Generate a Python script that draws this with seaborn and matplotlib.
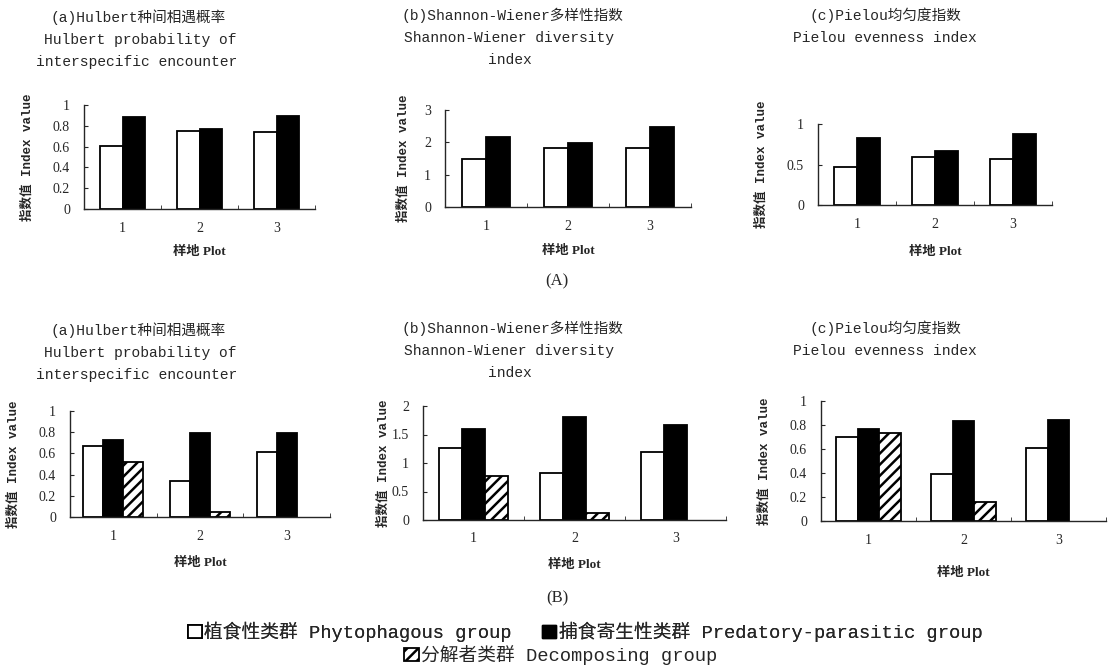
import numpy as np
import pandas as pd
import seaborn as sns
import matplotlib.pyplot as plt
from matplotlib.patches import Patch

sns.set_style("ticks")
MONO = ["Liberation Mono", "Noto Sans CJK SC", "DejaVu Sans"]
SERIF = ["Liberation Serif", "Noto Sans CJK SC", "DejaVu Sans"]
plt.rcParams["font.family"] = MONO
plt.rcParams["hatch.linewidth"] = 1.8

# plots (sample sites)
plots = ["1", "2", "3"]
groups = ["植食性类群", "捕食寄生性类群", "分解者类群"]
group_en = ["Phytophagous group", "Predatory-parasitic group", "Decomposing group"]

# (A) two groups
A_hulbert_phyto = [0.61, 0.75, 0.74]
A_hulbert_pred = [0.88, 0.77, 0.89]
A_shannon_phyto = [1.50, 1.81, 1.81]
A_shannon_pred = [2.17, 1.99, 2.47]
A_pielou_phyto = [0.47, 0.59, 0.57]
A_pielou_pred = [0.83, 0.67, 0.88]

# (B) three groups, no decomposer bar on plot 3
B_hulbert_phyto = [0.67, 0.34, 0.61]
B_hulbert_pred = [0.73, 0.79, 0.79]
B_hulbert_decomp = [0.52, 0.05, np.nan]
B_shannon_phyto = [1.26, 0.82, 1.19]
B_shannon_pred = [1.59, 1.81, 1.66]
B_shannon_decomp = [0.78, 0.13, np.nan]
B_pielou_phyto = [0.70, 0.39, 0.61]
B_pielou_pred = [0.77, 0.83, 0.84]
B_pielou_decomp = [0.73, 0.155, np.nan]

yticks_hulbert = [0, 0.2, 0.4, 0.6, 0.8, 1]
ylabels_hulbert = ["0", "0.2", "0.4", "0.6", "0.8", "1"]

W, H = 1109, 665
fig = plt.figure(figsize=(W / 100, H / 100), dpi=100)
palette = {groups[0]: "white", groups[1]: "black", groups[2]: "white"}


def px_axes(left, top, right, bottom):
    return fig.add_axes([left / W, 1 - bottom / H, (right - left) / W, (bottom - top) / H])


def text_px(x, y, s, **kw):
    fig.text(x / W, 1 - y / H, s, ha="center", va="center", **kw)


def draw_panel(ax, series, yticks, yticklabels, width, ylab_dx, xlab_dy):
    n = len(series)
    df = pd.DataFrame({
        "plot": np.tile(plots, n),
        "group": np.repeat(groups[:n], len(plots)),
        "value": np.concatenate(series),
    }).dropna()
    sns.barplot(data=df, x="plot", y="value", hue="group", order=plots,
                hue_order=groups[:n], palette=palette, width=width,
                edgecolor="black", linewidth=1.3, saturation=1,
                errorbar=None, legend=False, ax=ax)
    if n == 3:
        for bar in ax.containers[2]:
            bar.set_hatch("///")
    ax.set_xlim(-0.5, 2.5)
    ax.set_ylim(yticks[0], yticks[-1])
    ax.set_yticks(yticks)
    ax.set_yticklabels(yticklabels)
    ax.set_xticks([0.5, 1.5, 2.5], minor=True)
    ax.tick_params(axis="x", which="major", length=0, pad=9, labelsize=10)
    ax.tick_params(axis="x", which="minor", length=3, direction="in")
    ax.tick_params(axis="y", direction="in", length=3, pad=10, labelsize=10)
    for lab in ax.get_xticklabels() + ax.get_yticklabels():
        lab.set_family(SERIF)
    sns.despine(ax=ax)
    for sp in ax.spines.values():
        sp.set_linewidth(1.0)
    ax.set_xlabel("样地 Plot", fontsize=9.5, fontweight="bold", family=SERIF)
    ax.set_ylabel("指数值 Index value", fontsize=9, fontweight="bold", family=MONO)
    bb = ax.get_position()
    ax.yaxis.set_label_coords(ylab_dx / (bb.width * W), 0.5)
    ax.xaxis.set_label_coords(0.5, -xlab_dy / (bb.height * H))


# ---- (A) ----
ax = px_axes(84, 105, 315, 209)
draw_panel(ax, [A_hulbert_phyto, A_hulbert_pred], yticks_hulbert, ylabels_hulbert, 0.58, -50, 37)
ax = px_axes(445, 110, 691, 207)
draw_panel(ax, [A_shannon_phyto, A_shannon_pred], [0, 1, 2, 3], ["0", "1", "2", "3"], 0.58, -35, 38)
ax = px_axes(818, 124, 1052, 205)
draw_panel(ax, [A_pielou_phyto, A_pielou_pred], [0, 0.5, 1], ["0", "0.5", "1"], 0.58, -50, 41)

# ---- (B) ----
ax = px_axes(70, 411, 330, 517)
draw_panel(ax, [B_hulbert_phyto, B_hulbert_pred, B_hulbert_decomp], yticks_hulbert, ylabels_hulbert, 0.69, -50, 40)
ax = px_axes(423, 406, 726, 520)
draw_panel(ax, [B_shannon_phyto, B_shannon_pred, B_shannon_decomp], [0, 0.5, 1, 1.5, 2],
           ["0", "0.5", "1", "1.5", "2"], 0.69, -33, 39)
ax = px_axes(821, 401, 1106, 521)
draw_panel(ax, [B_pielou_phyto, B_pielou_pred, B_pielou_decomp], yticks_hulbert, ylabels_hulbert, 0.69, -50, 46)

# ---- titles ----
tkw = dict(fontsize=10.5, family=MONO)
for y0 in (17, 330):
    text_px(138, y0, "(a)Hulbert种间相遇概率", **tkw)
    text_px(140, y0 + 23, "Hulbert probability of", **tkw)
    text_px(137, y0 + 45, "interspecific encounter", **tkw)
    text_px(512, y0 - 2, "(b)Shannon-Wiener多样性指数", **tkw)
    text_px(509, y0 + 21, "Shannon-Wiener diversity", **tkw)
    text_px(510, y0 + 43, "index", **tkw)
    text_px(885, y0 - 2, "(c)Pielou均匀度指数", **tkw)
    text_px(885, y0 + 21, "Pielou evenness index", **tkw)

text_px(557, 281, "(A)", fontsize=12, family=SERIF)
text_px(557, 598, "(B)", fontsize=12, family=SERIF)

# ---- legend ----
handles = [Patch(facecolor="white", edgecolor="black", linewidth=1.3),
           Patch(facecolor="black", edgecolor="black"),
           Patch(facecolor="white", edgecolor="black", hatch="///", linewidth=1.3)]
labels = [f"{g} {e}" for g, e in zip(groups, group_en)]
lkw = dict(frameon=False, handlelength=0.75, handleheight=0.75, handletextpad=0.15,
           prop={"family": MONO, "size": 13.5})
leg1 = fig.legend(handles[:2], labels[:2], ncol=2, loc="center",
                  bbox_to_anchor=(585 / W, 1 - 632 / H), columnspacing=1.6, **lkw)
fig.add_artist(leg1)
fig.legend(handles[2:], labels[2:], loc="center",
           bbox_to_anchor=(561 / W, 1 - 655 / H), **lkw)

plt.savefig("out.png", dpi=100)
